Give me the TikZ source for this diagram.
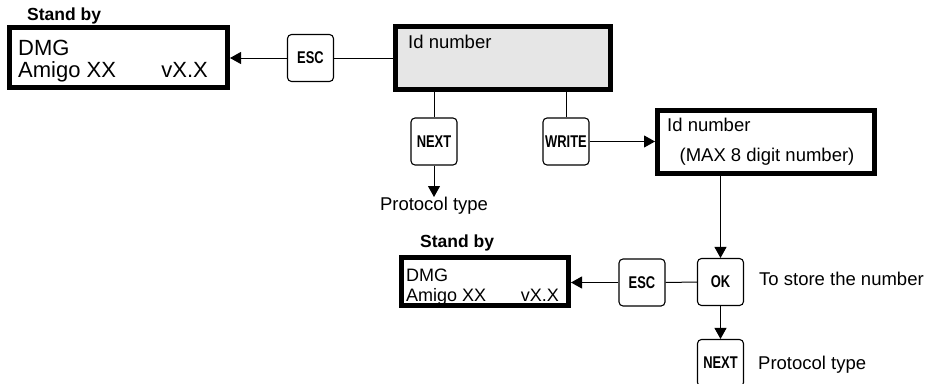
\documentclass[tikz,border=0pt]{standalone}
\usepackage{fontspec}
\usepackage{graphicx}
\setmainfont{Liberation Sans}
\usetikzlibrary{arrows.meta}

\definecolor{idgray}{RGB}{230,230,230}
\newcommand\keylabel[1]{\scalebox{0.76}[1]{\fontsize{17}{19}\selectfont\bfseries #1}}

\tikzset{
  screen/.style={draw=black, line width=5pt, inner sep=0pt},
  key/.style={draw=black, line width=1.1pt, rounded corners=4pt,
    minimum width=46pt, minimum height=47pt, inner sep=0pt},
  link/.style={draw=black, line width=1pt},
  arrow/.style={link, -{Triangle[length=11pt,width=12pt]}},
  txt/.style={anchor=base west, inner sep=0pt, font=\fontsize{18.5}{22}\selectfont},
  bigtxt/.style={anchor=base west, inner sep=0pt, font=\fontsize{22}{26}\selectfont},
  smalltxt/.style={anchor=base west, inner sep=0pt, font=\fontsize{18}{21}\selectfont},
  caption/.style={anchor=base west, inner sep=0pt, font=\fontsize{17.5}{20}\selectfont\bfseries},
}

\begin{document}
\begin{tikzpicture}[x=1pt,y=-1pt]
\useasboundingbox[fill=white] (0,0) rectangle (926,383);

% display screens
\node[screen, minimum width=218pt, minimum height=60pt] (stdbyA) at (118.5,57.5) {};
\node[screen, fill=idgray, minimum width=215pt, minimum height=63pt] (idbox) at (503,58) {};
\node[screen, minimum width=217pt, minimum height=63pt] (entry) at (766,142) {};
\node[screen, minimum width=167pt, minimum height=48pt] (stdbyB) at (485,281.5) {};

% keys
\node[key] (escA)  at (310.5,58)  {\keylabel{ESC}};
\node[key] (nextA) at (434,141.5) {\keylabel{NEXT}};
\node[key] (write) at (566,141.5) {\keylabel{WRITE}};
\node[key] (escB)  at (642,282.5) {\keylabel{ESC}};
\node[key] (ok)    at (720.5,282) {\keylabel{OK}};
\node[key] (nextB) at (720.5,363) {\keylabel{NEXT}};

% screen contents
\node[caption] (sbA) at (27,20.7) {Stand by};
\node[bigtxt] (dmgA) at (18,55) {DMG};
\node[bigtxt] (amigoA) at (18,77) {Amigo XX};
\node[bigtxt, anchor=base east] (verA) at (208,77) {vX.X};

\node[txt] (idA) at (408,48.3) {Id number};

\node[txt] (idB) at (667,131) {Id number};
\node[txt, anchor=base] (maxB) at (767,161.7) {(MAX 8 digit number)};

\node[caption] (sbB) at (420,247.3) {Stand by};
\node[smalltxt] (dmgB) at (406,281) {DMG};
\node[smalltxt] (amigoB) at (406,301.5) {Amigo XX};
\node[smalltxt, anchor=base east] (verB) at (559,301.5) {vX.X};

% free labels
\coordinate (protoA) at (434,197);
\node[txt, anchor=base] (protoAtxt) at (434,210) {Protocol type};
\node[txt] (store) at (759,285) {To store the number};
\node[txt] (protoB) at (758,369) {Protocol type};

% connectors
\draw[link]  (idbox.west) -- (escA.east);
\draw[arrow] (escA.west) -- (escA.west -| stdbyA.east);
\draw[link]  (idbox.south -| nextA) -- (nextA.north);
\draw[arrow] (nextA.south) -- (protoA);
\draw[link]  (idbox.south -| write) -- (write.north);
\draw[arrow] (write.east) -- (write.east -| entry.west);
\draw[arrow] (entry.south -| ok) -- (ok.north);
\draw[link]  (ok.west) -- (escB.east);
\draw[arrow] (escB.west) -- (escB.west -| stdbyB.east);
\draw[arrow] (ok.south) -- (nextB.north);
\end{tikzpicture}
\end{document}
